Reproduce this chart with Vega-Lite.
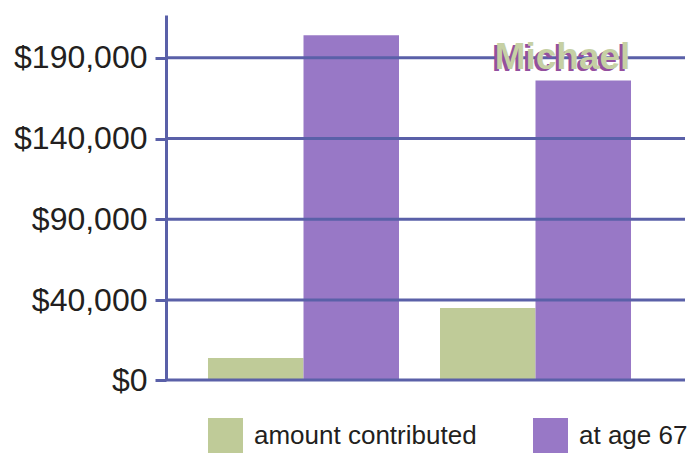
{
  "$schema": "https://vega.github.io/schema/vega-lite/v6.json",
  "autosize": "none",
  "width": 519,
  "height": 365,
  "padding": {"left": 166, "top": 15, "right": 14, "bottom": 78},
  "background": "white",
  "config": {"view": {"stroke": null}},
  "datasets": {
    "bars": [
      {"scenario": "early start", "series": "amount contributed", "value": 11000},
      {"scenario": "early start", "series": "at age 67", "value": 204000},
      {"scenario": "late start", "series": "amount contributed", "value": 36000},
      {"scenario": "late start", "series": "at age 67", "value": 176000}
    ],
    "grid": [{"level": 0}, {"level": 40000}, {"level": 90000}, {"level": 140000}, {"level": 190000}],
    "label": [{"scenario": "late start", "label": "Michael", "level": 190000}]
  },
  "layer": [
    {
      "data": {"name": "bars"},
      "mark": {"type": "bar"},
      "encoding": {
        "x": {"field": "scenario", "type": "nominal", "axis": null,
              "scale": {"range": [0, 507], "paddingInner": 0.1767, "paddingOuter": 0.181}},
        "xOffset": {"field": "series", "type": "nominal", "scale": {"paddingInner": 0, "paddingOuter": 0}},
        "y": {"field": "value", "type": "quantitative",
              "scale": {"domain": [0, 40000, 216500], "range": [365, 285, 0], "nice": false, "zero": false},
              "axis": {
                "values": [0, 40000, 90000, 140000, 190000],
                "format": "$,.0f",
                "title": null,
                "grid": false,
                "domainColor": "#5a60a8",
                "domainWidth": 3,
                "tickColor": "#5a60a8",
                "tickWidth": 3,
                "tickSize": 11,
                "labelFont": "Liberation Sans, Arial, sans-serif",
                "labelFontSize": 32,
                "labelColor": "#231f20",
                "labelPadding": 8
              }},
        "color": {"field": "series", "type": "nominal",
                  "scale": {"domain": ["amount contributed", "at age 67"], "range": ["#bfcb98", "#9878c6"]},
                  "legend": {
                    "orient": "none",
                    "legendX": 42,
                    "legendY": 403,
                    "direction": "horizontal",
                    "title": null,
                    "symbolType": "square",
                    "symbolSize": 1225,
                    "symbolStrokeWidth": 0,
                    "symbolOpacity": 1,
                    "labelFont": "Liberation Sans, Arial, sans-serif",
                    "labelFontSize": 26,
                    "labelColor": "#231f20",
                    "labelOffset": 11,
                    "columnPadding": 56,
                    "labelLimit": 400
                  }}
      }
    },
    {
      "data": {"name": "grid"},
      "mark": {"type": "rule", "color": "#5a60a8", "strokeWidth": 3},
      "encoding": {
        "y": {"field": "level", "type": "quantitative"}
      }
    },
    {
      "data": {"name": "label"},
      "mark": {"type": "text", "font": "Liberation Sans, Arial, sans-serif",
               "fontWeight": "bold", "fontSize": 37, "baseline": "middle", "align": "center",
               "dx": 24, "dy": 2, "fill": "#94509f"},
      "encoding": {
        "x": {"field": "scenario", "type": "nominal"},
        "y": {"field": "level", "type": "quantitative"},
        "text": {"field": "label"}
      }
    },
    {
      "data": {"name": "label"},
      "mark": {"type": "text", "font": "Liberation Sans, Arial, sans-serif",
               "fontWeight": "bold", "fontSize": 37, "baseline": "middle", "align": "center",
               "dx": 27, "dy": 0, "fill": "#c6d0a4"},
      "encoding": {
        "x": {"field": "scenario", "type": "nominal"},
        "y": {"field": "level", "type": "quantitative"},
        "text": {"field": "label"}
      }
    }
  ]
}
